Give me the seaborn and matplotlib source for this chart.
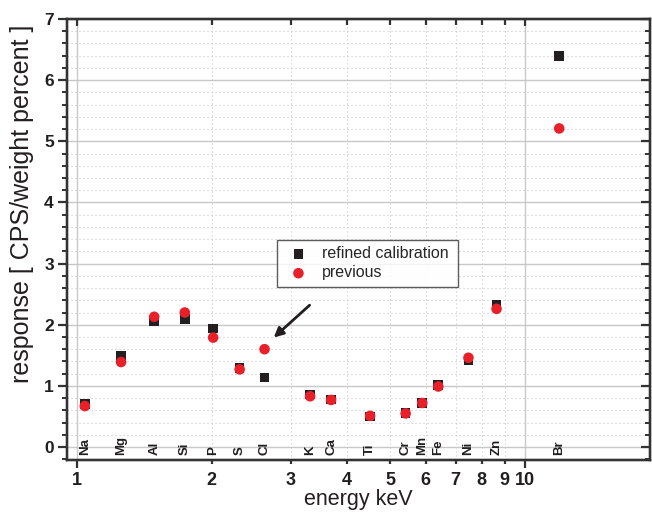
import numpy as np
import pandas as pd
import seaborn as sns
from matplotlib import pyplot as plt
from matplotlib.ticker import FixedFormatter, FixedLocator, MultipleLocator

sns.set_theme(style="white")
plt.rcParams["font.family"] = ["Liberation Sans", "DejaVu Sans"]

# Data
elements = ["Na", "Mg", "Al", "Si", "P", "S", "Cl", "K", "Ca", "Ti", "Cr", "Mn", "Fe", "Ni", "Zn", "Br"]
energy = [1.041, 1.254, 1.487, 1.740, 2.013, 2.307, 2.622, 3.313, 3.691, 4.510, 5.414, 5.898, 6.403, 7.477,
          8.638, 11.92]
refined = [0.70, 1.49, 2.06, 2.09, 1.94, 1.29, 1.14, 0.86, 0.78, 0.50, 0.56, 0.72, 1.01, 1.42, 2.33, 6.39]
previous = [0.67, 1.39, 2.13, 2.20, 1.79, 1.27, 1.60, 0.83, 0.77, 0.51, 0.55, 0.72, 0.99, 1.46, 2.26, 5.21]
x_major = [1, 10]
x_minor = [2, 3, 4, 5, 6, 7, 8, 9]
y_ticks = [0, 1, 2, 3, 4, 5, 6, 7]

df = pd.concat([
    pd.DataFrame({"energy": energy, "response": refined, "series": "refined calibration"}),
    pd.DataFrame({"energy": energy, "response": previous, "series": "previous"}),
])

dark = "#231f20"
red = "#e8202a"
spine_c = "#333333"
xlim = (0.95, 19.0)
ylim = (-0.22, 7)

fig = plt.figure(figsize=(6.52, 5.17), dpi=100)
ax = fig.add_axes([0.1028, 0.1093, 0.894, 0.854])

ax.set_xscale("log")
ax.set_xlim(*xlim)
ax.set_ylim(*ylim)

# Grid: solid at majors, dotted at minors
dotted = (0, (1.0, 2.6))
for x in x_major + x_minor:
    solid = x in x_major
    ax.axvline(x, color="#c8c8c8", lw=1.0 if solid else 0.8, ls="-" if solid else dotted, zorder=0)
for y in np.arange(0, 7.01, 0.2):
    solid = abs(y - round(y)) < 1e-6
    ax.axhline(y, color="#c8c8c8", lw=1.0 if solid else 0.8, ls="-" if solid else dotted, zorder=0)

sns.scatterplot(
    data=df, x="energy", y="response", hue="series", style="series",
    palette={"refined calibration": dark, "previous": red},
    markers={"refined calibration": "s", "previous": "o"},
    size="series", sizes={"refined calibration": 48, "previous": 58},
    edgecolor="none", linewidth=0, ax=ax, zorder=3, legend=False
)

# Legend
h1 = ax.scatter([], [], marker="s", s=48, color=dark, edgecolor="none")
h2 = ax.scatter([], [], marker="o", s=58, color=red, edgecolor="none")
leg = ax.legend([h1, h2], ["refined calibration", "previous"], loc="upper left",
                bbox_to_anchor=(0.360, 0.3994, 0.310, 0.1), mode="expand", borderaxespad=0,
                fontsize=11.5, frameon=True, fancybox=False, edgecolor=spine_c,
                handletextpad=0.5, borderpad=0.4, labelspacing=0.25, handlelength=1.9)
leg.get_frame().set_linewidth(1.0)

# Element labels
for name, e in zip(elements, energy):
    ax.text(e, -0.13, name, rotation=90, ha="center", va="bottom", fontsize=9.5,
            fontweight="bold", color=dark, zorder=4)

# Arrow pointing at Cl previous point
ax.annotate("", xy=(2.72, 1.76), xytext=(3.34, 2.35),
            arrowprops=dict(arrowstyle="-|>", color=dark, lw=2, mutation_scale=14))

# Ticks (left/bottom outward)
ax.xaxis.set_major_locator(FixedLocator(x_major))
ax.xaxis.set_major_formatter(FixedFormatter([str(t) for t in x_major]))
ax.xaxis.set_minor_locator(FixedLocator(x_minor))
ax.xaxis.set_minor_formatter(FixedFormatter([str(t) for t in x_minor]))
ax.tick_params(axis="x", which="major", length=6, width=1.6, pad=2.2)
ax.tick_params(axis="x", which="minor", length=3, width=1.6, pad=5.2)
ax.tick_params(axis="x", which="both", labelsize=13, color=spine_c, direction="out",
               labelcolor=dark, bottom=True)

ax.yaxis.set_major_locator(FixedLocator(y_ticks))
ax.yaxis.set_minor_locator(MultipleLocator(0.2))
ax.tick_params(axis="y", which="major", labelsize=12.5, length=6.5, width=1.6, color=spine_c,
               direction="out", labelcolor=dark, pad=3)
ax.tick_params(axis="y", which="minor", length=3.6, width=1.4, color=spine_c, direction="out")
for lab in (ax.get_xticklabels() + ax.get_xticklabels(minor=True) + ax.get_yticklabels()):
    lab.set_fontweight("bold")

# Top/right ticks inward
ax_top = ax.twiny()
ax_top.set_xscale("log")
ax_top.set_xlim(*xlim)
ax_top.xaxis.set_major_locator(FixedLocator(x_major))
ax_top.xaxis.set_minor_locator(FixedLocator(x_minor))
ax_top.tick_params(axis="x", which="major", direction="in", length=5, width=1.6, color=spine_c,
                   labeltop=False)
ax_top.tick_params(axis="x", which="minor", direction="in", length=4, width=1.6, color=spine_c,
                   labeltop=False)

ax_right = ax.twinx()
ax_right.set_ylim(*ylim)
ax_right.yaxis.set_major_locator(FixedLocator(y_ticks))
ax_right.yaxis.set_minor_locator(MultipleLocator(0.2))
ax_right.tick_params(axis="y", which="major", direction="in", length=6.5, width=1.6, color=spine_c,
                     labelright=False)
ax_right.tick_params(axis="y", which="minor", direction="in", length=3.6, width=1.4, color=spine_c)

for a in (ax, ax_top, ax_right):
    for s in a.spines.values():
        s.set_color(spine_c)
        s.set_linewidth(1.6)

ax.set_xlabel("energy keV", fontsize=15.5, color=dark, labelpad=0)
ax.set_ylabel("response [ CPS/weight percent ]", fontsize=18, color=dark)
ax.yaxis.set_label_coords(-0.056, 0.581)

fig.savefig("out.png", dpi=100)
